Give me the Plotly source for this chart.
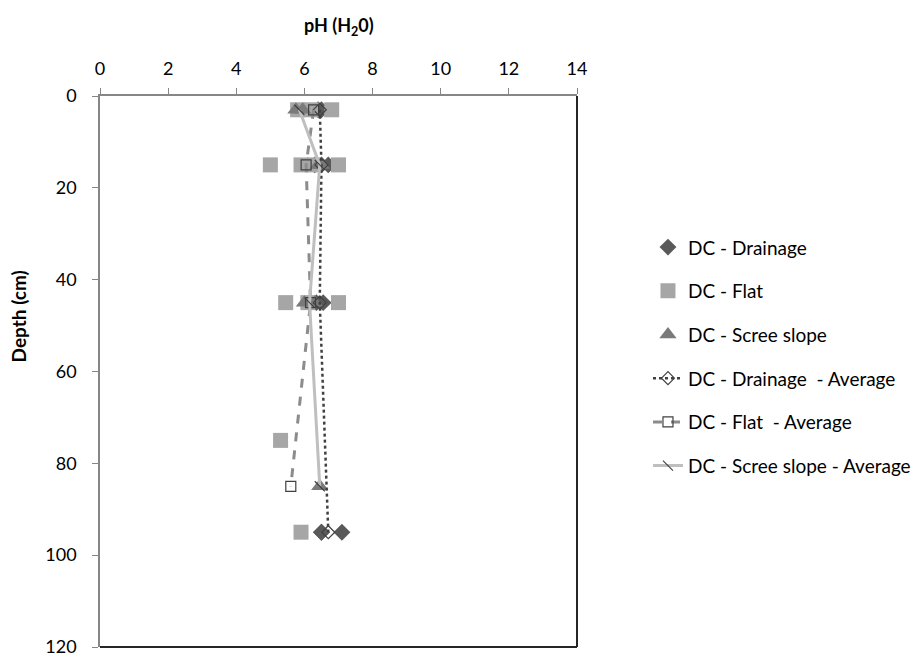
import plotly.graph_objects as go

# pH (H2O) by depth for each DC landscape position
drain_depth = [3, 3, 15, 15, 15, 45, 45, 95, 95, 95]
drain_ph = [6.4, 6.5, 6.3, 6.5, 6.7, 6.35, 6.55, 6.5, 7.1, 6.5]

flat_depth = [3, 3, 3, 15, 15, 15, 15, 45, 45, 45, 75, 95]
flat_ph = [5.8, 6.2, 6.8, 5.0, 5.9, 6.3, 7.0, 5.45, 6.1, 7.0, 5.3, 5.9]

scree_depth = [3, 3, 15, 15, 45, 45, 85]
scree_ph = [5.75, 5.95, 6.4, 6.5, 6.0, 6.3, 6.45]

# depth-wise averages
drain_avg_depth = [3, 15, 45, 95]
drain_avg_ph = [6.45, 6.5, 6.45, 6.7]

flat_avg_depth = [3, 15, 45, 85]
flat_avg_ph = [6.27, 6.05, 6.18, 5.6]

scree_avg_depth = [3, 15, 45, 85]
scree_avg_ph = [5.85, 6.45, 6.15, 6.45]

x_ticks = [0, 2, 4, 6, 8, 10, 12, 14]
y_ticks = [0, 20, 40, 60, 80, 100, 120]

FONT = "Lato"

fig = go.Figure()

fig.add_trace(go.Scatter(
    x=drain_ph, y=drain_depth, mode="markers", name="DC - Drainage",
    legendgroup="a",
    marker=dict(symbol="diamond", size=13, color="#595959")))
fig.add_trace(go.Scatter(
    x=flat_ph, y=flat_depth, mode="markers", name="DC - Flat",
    legendgroup="b",
    marker=dict(symbol="square", size=15, color="#a6a6a6")))
fig.add_trace(go.Scatter(
    x=scree_ph, y=scree_depth, mode="markers", name="DC - Scree slope",
    legendgroup="c",
    marker=dict(symbol="triangle-up", size=15, color="#7a7a7a")))

fig.add_trace(go.Scatter(
    x=drain_avg_ph, y=drain_avg_depth, mode="lines+markers",
    name="DC - Drainage  - Average", legendgroup="d",
    line=dict(color="#404040", width=2.5, dash="dot"),
    marker=dict(symbol="diamond-open", size=10, color="#404040",
                line=dict(width=1.2, color="#404040"))))
fig.add_trace(go.Scatter(
    x=flat_avg_ph, y=flat_avg_depth, mode="lines+markers",
    name="DC - Flat  - Average", legendgroup="e",
    line=dict(color="#8c8c8c", width=3, dash="dash"),
    marker=dict(symbol="square-open", size=10, color="#404040",
                line=dict(width=1.2, color="#404040"))))
fig.add_trace(go.Scatter(
    x=scree_avg_ph, y=scree_avg_depth, mode="lines+markers",
    name="DC - Scree slope - Average", legendgroup="f",
    line=dict(color="#bfbfbf", width=3),
    marker=dict(symbol="line-nw", size=10, color="#404040",
                line=dict(width=1.2, color="#404040"))))

fig.update_layout(
    width=924, height=656,
    margin=dict(l=100, r=346, t=96, b=9),
    paper_bgcolor="white", plot_bgcolor="white",
    font=dict(family=FONT, size=16, color="#000000"),
    showlegend=True,
    legend=dict(x=1.1464, xanchor="left", xref="paper", y=0.760,
                yanchor="top",
                font=dict(family=FONT, size=19, color="#000000"),
                tracegroupgap=16, traceorder="grouped"),
    xaxis=dict(
        side="top", range=[0, 14], tickvals=x_ticks,
        ticks="outside", ticklen=6, tickcolor="#868686",
        showline=True, linecolor="#868686", linewidth=1.5,
        showgrid=False, zeroline=False, automargin=False,
        tickfont=dict(size=18), ticklabelstandoff=6,
        ticklabeloverflow="allow"),
    yaxis=dict(
        range=[120, 0], tickvals=y_ticks,
        ticks="outside", ticklen=6, tickcolor="#868686",
        showline=True, linecolor="#868686", linewidth=1.5,
        showgrid=False, zeroline=False, automargin=False,
        tickfont=dict(size=18), ticklabelstandoff=12,
        ticklabeloverflow="allow"),
    annotations=[
        dict(text="<b>pH (H<sub>2</sub>0)</b>", xref="paper", yref="paper",
             x=0.5, y=1, yshift=70, xanchor="center", yanchor="middle",
             showarrow=False, font=dict(family=FONT, size=18)),
        dict(text="<b>Depth (cm)</b>", xref="paper", yref="paper",
             x=0, xshift=-82, y=0.6, xanchor="center", yanchor="middle",
             textangle=-90, showarrow=False,
             font=dict(family=FONT, size=19)),
    ],
    shapes=[
        dict(type="line", xref="paper", yref="paper", x0=0, x1=1, y0=0, y1=0,
             line=dict(color="#262626", width=2)),
        dict(type="line", xref="paper", yref="paper", x0=1, x1=1, y0=0, y1=1,
             line=dict(color="#262626", width=2)),
    ],
)

fig.write_html("out.html")
